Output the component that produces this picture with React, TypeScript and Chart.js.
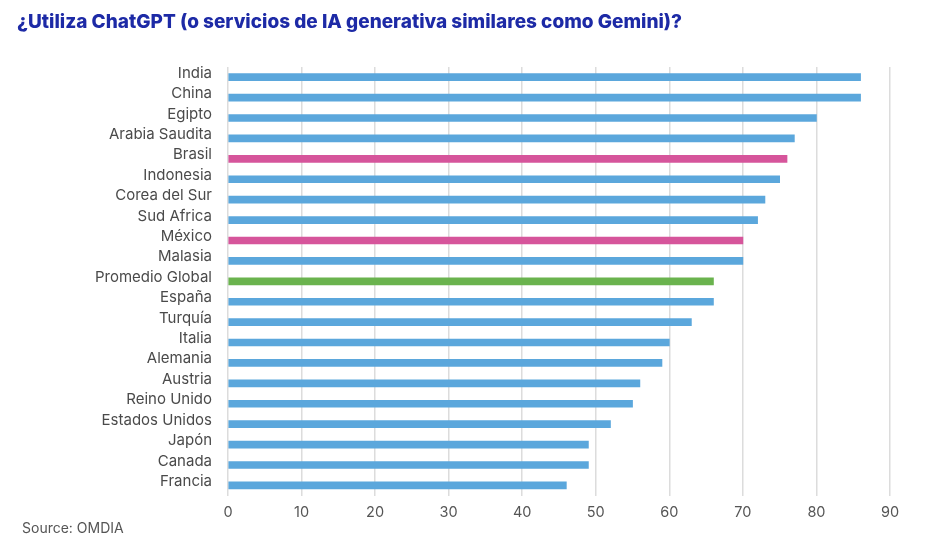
import React, { useEffect, useRef } from "react";
import { Chart, registerables } from "chart.js";

Chart.register(...registerables);

const categories = [
  "India", "China", "Egipto", "Arabia Saudita", "Brasil", "Indonesia", "Corea del Sur",
  "Sud Africa", "México", "Malasia", "Promedio Global", "España", "Turquía", "Italia",
  "Alemania", "Austria", "Reino Unido", "Estados Unidos", "Japón", "Canada", "Francia",
];
const values = [86, 86, 80, 77, 76, 75, 73, 72, 70, 70, 66, 66, 63, 60, 59, 56, 55, 52, 49, 49, 46];
const highlightPink = ["Brasil", "México"];
const highlightGreen = ["Promedio Global"];
const xTicks = [0, 10, 20, 30, 40, 50, 60, 70, 80, 90];

const BLUE = "#5BA7DC";
const PINK = "#D6559B";
const GREEN = "#6AB34E";
const FONT = "Inter, 'Open Sans', sans-serif";

export default function App() {
  const ref = useRef<HTMLCanvasElement | null>(null);
  useEffect(() => {
    document.body.style.margin = "0";
    if (!ref.current) return;
    const colors = categories.map((c) =>
      highlightPink.includes(c) ? PINK : highlightGreen.includes(c) ? GREEN : BLUE
    );
    const chart = new Chart(ref.current, {
      type: "bar",
      data: {
        labels: categories,
        datasets: [
          {
            data: values,
            backgroundColor: colors,
            barThickness: 7,
          },
        ],
      },
      options: {
        indexAxis: "y",
        animation: false,
        responsive: false,
        maintainAspectRatio: false,
        layout: { padding: { top: 67, right: 54, bottom: 20, left: 0 } },
        plugins: { legend: { display: false }, tooltip: { enabled: false } },
        scales: {
          x: {
            min: 0,
            max: 90,
            afterBuildTicks: (s: any) => {
              s.ticks = xTicks.map((v) => ({ value: v }));
            },
            grid: { color: "#DCDCDC", lineWidth: 1.5, drawTicks: false },
            border: { display: false },
            ticks: { color: "#555", font: { family: FONT, size: 14.5 }, padding: 8 },
          },
          y: {
            grid: { display: false, drawTicks: false },
            border: { display: false },
            afterFit: (s: any) => {
              s.width = 228;
            },
            ticks: {
              color: "#4a4a4a",
              font: { family: FONT, size: 15 },
              padding: 16,
              labelOffset: -4,
              autoSkip: false,
            },
          },
        },
      },
    });
    return () => chart.destroy();
  }, []);
  return (
    <div style={{ position: "relative", width: 944, height: 549, background: "#fff" }}>
      <canvas ref={ref} width={944} height={549} style={{ position: "absolute", left: 0, top: 0, width: 944, height: 549 }} />
      <div
        style={{
          position: "absolute",
          left: 17,
          top: 10,
          fontFamily: FONT,
          fontWeight: 800,
          fontSize: 19,
          color: "#1D2AA6",
          whiteSpace: "nowrap",
        }}
      >
        ¿Utiliza ChatGPT (o servicios de IA generativa similares como Gemini)?
      </div>
      <div
        style={{
          position: "absolute",
          left: 22,
          top: 519,
          fontFamily: FONT,
          fontSize: 14,
          color: "#555",
          whiteSpace: "nowrap",
        }}
      >
        Source: OMDIA
      </div>
    </div>
  );
}
